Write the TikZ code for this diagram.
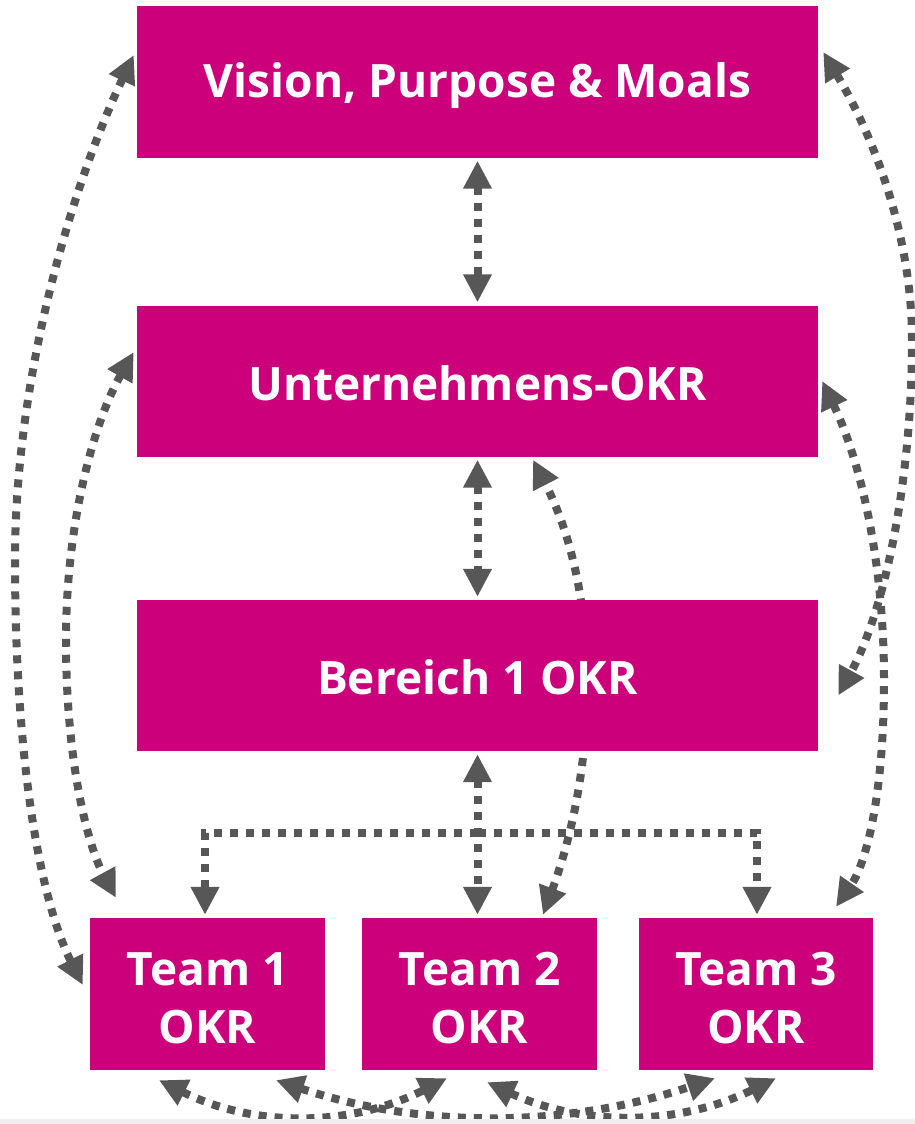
\documentclass[tikz,border=0pt]{standalone}
\usepackage{fontspec}
\setmainfont{Open Sans}
\usetikzlibrary{arrows.meta,calc,backgrounds}
\definecolor{okrmag}{HTML}{CC007A}
\definecolor{arrgray}{HTML}{575757}
\definecolor{bandgray}{HTML}{EFEFEF}
\tikzset{
  box/.style={fill=okrmag, text=white, font=\bfseries\fontsize{46}{58}\selectfont, inner sep=0pt, align=center, anchor=center},
  bigbox/.style={box, minimum width=681pt, minimum height=151pt},
  teambox/.style={box, minimum width=235pt, minimum height=152pt},
  link/.style={draw=arrgray, line width=8pt, dash pattern=on 8pt off 8pt,
    {Triangle[length=28pt,width=27pt]}-{Triangle[length=28pt,width=27pt]}},
  onelink/.style={draw=arrgray, line width=8pt, dash pattern=on 8pt off 8pt,
    -{Triangle[length=28pt,width=27pt]}},
}
\begin{document}
\begin{tikzpicture}[x=1pt,y=-1pt]
\path[use as bounding box] (0,0) rectangle (915,1124);
\node[bigbox] (vis) at (477.5,82) {};
\node[bigbox] (unt) at (477.5,381) {};
\node[bigbox] (ber) at (477.5,675.5) {};
\node[teambox] (t1) at (207.5,994) {};
\node[teambox] (t2) at (479.5,994) {};
\node[teambox, minimum width=234pt] (t3) at (756,994) {};
\node[box, fill=none] (visl) at ($(vis.center)+(0,4)$) {Vision, Purpose \& Moals};
\node[box, fill=none] (untl) at ($(unt.center)+(0,2)$) {Unternehmens-OKR};
\node[box, fill=none] (berl) at ($(ber.center)+(0,2)$) {Bereich 1 OKR};
\node[box, fill=none] (t1l) at ($(t1.center)+(0,4)$) {Team 1\\OKR};
\node[box, fill=none] (t2l) at ($(t2.center)+(0,4)$) {Team 2\\OKR};
\node[box, fill=none] (t3l) at ($(t3.center)+(0,4)$) {Team 3\\OKR};
\coordinate (hub) at ($(ber.south)+(0,81.5)$);
\begin{scope}[on background layer]
  % vertical links
  \draw[link] ($(vis.south)+(0,3)$) -- ($(unt.north)+(0,-3)$);
  \draw[link] ($(unt.south)+(0,3)$) -- ($(ber.north)+(0,-3)$);
  \draw[link] ($(ber.south)+(0,3)$) -- ($(ber.south |- t2.north)+(0,-3)$);
  % tree to team 1 and 3
  \draw[onelink] (hub) -| ($(t1.north)+(-2.5,-3)$);
  \draw[onelink] (hub) -| ($(t3.north)+(1,-3)$);
  % team 2 to Unternehmens (behind Bereich)
  \draw[link] ($(t2.north)+(63.5,-3)$) .. controls (600,760) and (600,590) .. ($(unt.south)+(55.5,3)$);
  % left outer: vision - team 1
  \draw[link] ($(vis.west)+(-3,-27)$) .. controls (70,190) and (15,380) .. (15,560)
     .. controls (15,760) and (40,900) .. ($(t1.west)+(-7,-9)$);
  % left inner: unternehmens - team 1
  \draw[link] ($(unt.west)+(-3,-29)$) .. controls (95,420) and (66,520) .. (66,640)
     .. controls (66,770) and (90,850) .. ($(t1.north)+(-91.5,-20)$);
  % right outer: vision - bereich
  \draw[link] ($(vis.east)+(5,-30)$) .. controls (870,130) and (912,230) .. (912,340)
     .. controls (912,480) and (885,610) .. ($(ber.east)+(20,20)$);
  % right inner: unternehmens - team 3
  \draw[link] ($(unt.east)+(4,0)$) .. controls (860,460) and (884,560) .. (884,680)
     .. controls (884,800) and (865,865) .. ($(t3.north)+(80,-11)$);
  % bottom arcs
  \draw[link] ($(t1.south)+(-48.5,10)$) .. controls (255,1128) and (351,1127) .. ($(t2.south)+(-32.5,8)$);
  \draw[link] ($(t1.south)+(68.5,10)$) .. controls (422,1129) and (568,1128) .. ($(t3.south)+(-41,8)$);
  \draw[link] ($(t2.south)+(7.5,12)$) .. controls (583,1127) and (679,1126) .. ($(t3.south)+(20,8)$);
\end{scope}
\fill[bandgray] (0,1119) rectangle (915,1124);
\end{tikzpicture}
\end{document}
